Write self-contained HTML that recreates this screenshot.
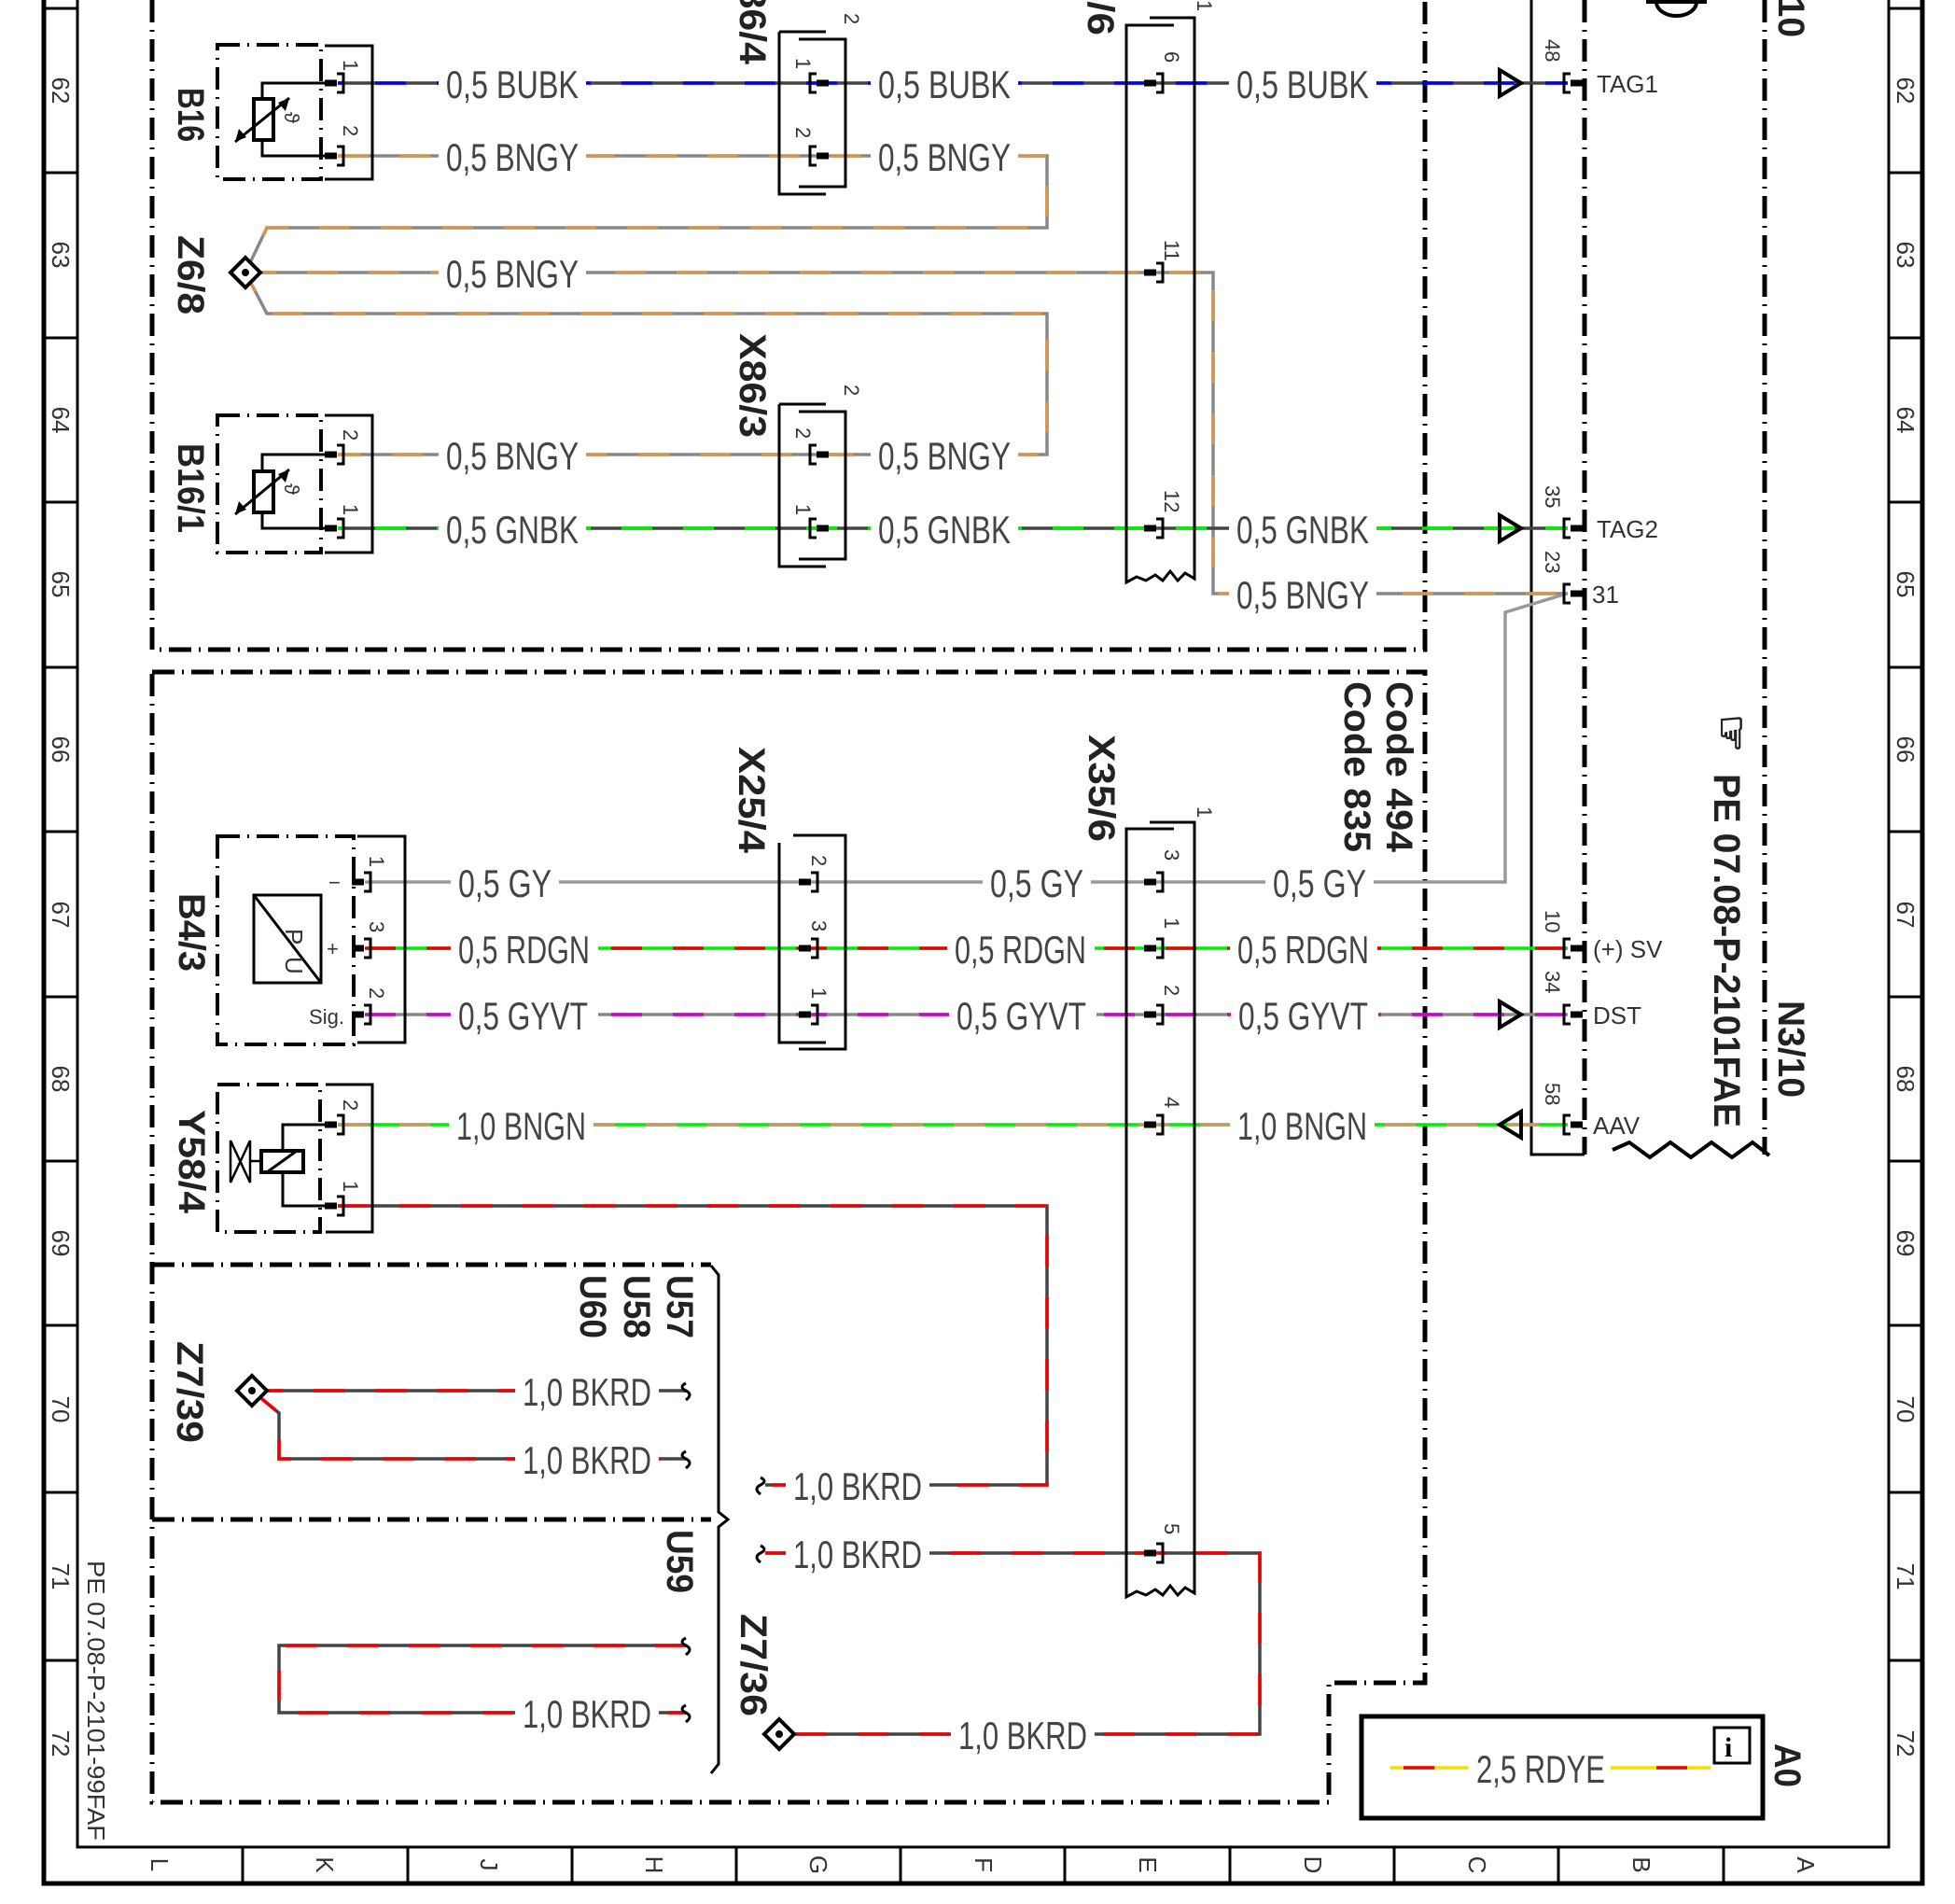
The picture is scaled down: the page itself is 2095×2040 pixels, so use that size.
<!DOCTYPE html>
<html><head><meta charset="utf-8"><style>
html,body{margin:0;padding:0;background:#fff}
svg{display:block}
text{font-family:"Liberation Sans",sans-serif}
.wl{font-size:42px;fill:#444}
.cl{font-size:40px;font-weight:bold;fill:#222}
.pn{font-size:22px;fill:#333}
.sm{font-size:26px;fill:#333}
.bd{fill:none;stroke:#000;stroke-width:5;stroke-dasharray:24 8 2 8}
.bx{fill:none;stroke:#000;stroke-width:3}
</style></head><body>
<svg width="2095" height="2040" viewBox="0 0 2095 2040" xmlns="http://www.w3.org/2000/svg">
<defs>
<g id="pR"><rect x="-14" y="-3.5" width="13" height="7" fill="#000"/><path d="M-1,-10 h7 v20 h-7" fill="none" stroke="#000" stroke-width="3"/></g>
<g id="pL"><path d="M1,-10 h-7 v20 h7" fill="none" stroke="#000" stroke-width="3"/><rect x="1" y="-3.5" width="13" height="7" fill="#000"/></g>
</defs>

<!-- frame -->
<g stroke="#000" fill="none">
<path d="M47,0 V2018 H2060 V0" stroke-width="5"/>
<path d="M83,0 V1979 H2024 V0" stroke-width="3"/>
<g stroke-width="3">
<path d="M47,9 H83 M47,185 H83 M47,362 H83 M47,538 H83 M47,715 H83 M47,891 H83 M47,1068 H83 M47,1244 H83 M47,1420 H83 M47,1599 H83 M47,1779 H83"/>
<path d="M2024,9 H2060 M2024,185 H2060 M2024,362 H2060 M2024,538 H2060 M2024,715 H2060 M2024,891 H2060 M2024,1068 H2060 M2024,1244 H2060 M2024,1420 H2060 M2024,1599 H2060 M2024,1779 H2060"/>
<path d="M260,1979 V2018 M437,1979 V2018 M613,1979 V2018 M789,1979 V2018 M965,1979 V2018 M1141,1979 V2018 M1318,1979 V2018 M1494,1979 V2018 M1670,1979 V2018 M1847,1979 V2018"/>
</g></g>
<g class="sm" text-anchor="middle">
<text transform="translate(56,97) rotate(90)">62</text><text transform="translate(56,273) rotate(90)">63</text>
<text transform="translate(56,450) rotate(90)">64</text><text transform="translate(56,626) rotate(90)">65</text>
<text transform="translate(56,803) rotate(90)">66</text><text transform="translate(56,980) rotate(90)">67</text>
<text transform="translate(56,1156) rotate(90)">68</text><text transform="translate(56,1332) rotate(90)">69</text>
<text transform="translate(56,1510) rotate(90)">70</text><text transform="translate(56,1689) rotate(90)">71</text>
<text transform="translate(56,1868) rotate(90)">72</text>
<text transform="translate(2033,97) rotate(90)">62</text><text transform="translate(2033,273) rotate(90)">63</text>
<text transform="translate(2033,450) rotate(90)">64</text><text transform="translate(2033,626) rotate(90)">65</text>
<text transform="translate(2033,803) rotate(90)">66</text><text transform="translate(2033,980) rotate(90)">67</text>
<text transform="translate(2033,1156) rotate(90)">68</text><text transform="translate(2033,1332) rotate(90)">69</text>
<text transform="translate(2033,1510) rotate(90)">70</text><text transform="translate(2033,1689) rotate(90)">71</text>
<text transform="translate(2033,1868) rotate(90)">72</text>
<text transform="translate(162,1998) rotate(90)">L</text><text transform="translate(339,1998) rotate(90)">K</text>
<text transform="translate(515,1998) rotate(90)">J</text><text transform="translate(692,1998) rotate(90)">H</text>
<text transform="translate(868,1998) rotate(90)">G</text><text transform="translate(1045,1998) rotate(90)">F</text>
<text transform="translate(1221,1998) rotate(90)">E</text><text transform="translate(1398,1998) rotate(90)">D</text>
<text transform="translate(1574,1998) rotate(90)">C</text><text transform="translate(1750,1998) rotate(90)">B</text>
<text transform="translate(1926,1998) rotate(90)">A</text>
<text transform="translate(94,1822) rotate(90)" textLength="300" lengthAdjust="spacingAndGlyphs">PE 07.08-P-2101-99FAF</text>
</g>

<!-- section boundaries -->
<path class="bd" d="M163,0 V696 H1527 V0"/>
<path class="bd" d="M163,720 H1527 V1803 H1424 V1931 H163 Z"/>
<path class="bd" d="M163,1355 H762"/>
<path class="bd" d="M163,1628 H762"/>
<path d="M762,1356 l8,10 V1620 l10,8 l-10,8 V1890 l-8,10" fill="none" stroke="#000" stroke-width="3"/>
<!-- N3/10 -->
<path d="M1641,0 V1237 H1698" fill="none" stroke="#000" stroke-width="3"/>
<path class="bd" d="M1698,0 V1237"/>
<path class="bd" d="M1891,0 V1237"/>
<path d="M1728,1232 l18,-8 l22,16 l22,-16 l22,16 l22,-16 l22,16 l22,-16 l18,14" fill="none" stroke="#000" stroke-width="4"/>
<path d="M1764,2 H1829 M1775,2 A20,14 0 0 0 1818,2" fill="none" stroke="#000" stroke-width="4"/>

<!-- wires -->
<g fill="none" stroke-width="3.5">
<path d="M362,89 H1680" stroke="#444"/><path d="M362,89 H1680" stroke="#0000ee" stroke-dasharray="33 33" stroke-dashoffset="-40"/>
<path d="M362,167 H1122 V244 H286 L263,292 L286,336 H1122 V487 H362" stroke="#888"/>
<path d="M362,167 H1122 V244 H286 L263,292 L286,336 H1122 V487 H362" stroke="#d4954f" stroke-dasharray="33 33"/>
<path d="M263,292 H1300 V636 H1680" stroke="#888"/>
<path d="M263,292 H1300 V636 H1680" stroke="#d4954f" stroke-dasharray="33 33"/>
<path d="M362,566 H1680" stroke="#444"/><path d="M362,566 H1680" stroke="#00ee00" stroke-dasharray="33 33" stroke-dashoffset="-40"/>
<path d="M391,945 H1613 V656 L1679,636" stroke="#999"/>
<path d="M391,1016 H1680" stroke="#00ee00"/><path d="M391,1016 H1680" stroke="#ee0000" stroke-dasharray="33 33"/>
<path d="M391,1087 H1680" stroke="#888"/><path d="M391,1087 H1680" stroke="#d000d0" stroke-dasharray="33 33"/>
<path d="M362,1205 H1680" stroke="#00ee00"/><path d="M362,1205 H1680" stroke="#c8966a" stroke-dasharray="33 33"/>
<g stroke="#444">
<path d="M362,1292 H1122 V1591 H820"/>
<path d="M820,1664 H1350 V1858 H835"/>
<path d="M270,1490 H735 M270,1490 L299,1514 V1563 H735"/>
<path d="M735,1763 H299 V1835 H735"/>
</g>
<g stroke="#ee0000" stroke-dasharray="33 33">
<path d="M362,1292 H1122 V1591 H820"/>
<path d="M820,1664 H1350 V1858 H835"/>
<path d="M270,1490 H735 M270,1490 L299,1514 V1563 H735"/>
<path d="M735,1763 H299 V1835 H735"/>
</g>
</g>
<g fill="none" stroke="#000" stroke-width="3">
<path d="M735,1482 q-8,4 0,8 q8,4 0,10 M735,1555 q-8,4 0,8 q8,4 0,10 M735,1755 q-8,4 0,8 q8,4 0,10 M735,1827 q-8,4 0,8 q8,4 0,10"/>
<path d="M815,1583 q8,4 0,8 q-8,4 0,10 M815,1656 q8,4 0,8 q-8,4 0,10"/>
</g>

<!-- components -->
<g fill="none" stroke="#000">
<rect x="233" y="48" width="111" height="144" class="bd" style="stroke-width:4"/>
<path d="M348,49 H399 V192 H348" stroke-width="3"/>
<rect x="272" y="106" width="21" height="44" stroke-width="4"/>
<path d="M281,106 V89 H355 M281,150 V167 H355" stroke-width="3"/>
<path d="M252,152 L310,105" stroke-width="3"/>
<rect x="233" y="445" width="111" height="147" class="bd" style="stroke-width:4"/>
<path d="M348,445 H399 V592 H348" stroke-width="3"/>
<rect x="272" y="505" width="21" height="44" stroke-width="4"/>
<path d="M281,505 V487 H355 M281,549 V566 H355" stroke-width="3"/>
<path d="M252,551 L310,503" stroke-width="3"/>
<rect x="233" y="896" width="146" height="223" class="bd" style="stroke-width:4"/>
<path d="M383,896 H434 V1117 H383" stroke-width="3"/>
<rect x="272" y="959" width="72" height="94" stroke-width="3"/>
<path d="M272,959 L344,1053" stroke-width="3"/>
<rect x="233" y="1162" width="110" height="158" class="bd" style="stroke-width:4"/>
<path d="M349,1162 H399 V1320 H349" stroke-width="3"/>
<rect x="280" y="1233" width="45" height="23" stroke-width="4"/>
<path d="M286,1256 L318,1233" stroke-width="3"/>
<path d="M303,1233 V1205 H355 M303,1256 V1292 H355" stroke-width="3"/>
<path d="M247,1222 L268,1267 V1222 L247,1267 Z M268,1244 H280" stroke-width="2.5"/>
<path d="M835,34 H885 M856,42 H906 V200 H856 M835,34 V208 H885" stroke-width="3"/>
<path d="M835,433 H885 M856,441 H906 V599 H856 M835,433 V607 H885" stroke-width="3"/>
<path d="M850,895 H906 V1124 H856 M835,903 V1117 H885" stroke-width="3"/>
<path d="M1232,19 H1280 V620 l-10,-6 l-8,8 l-8,-10 l-8,10 l-8,-6 l-10,6 l-10,-4 l-11,6 V27 H1258" stroke-width="3"/>
<path d="M1232,881 H1280 V1707 l-10,-6 l-8,8 l-8,-10 l-8,10 l-8,-6 l-10,6 l-10,-4 l-11,6 V888 H1258" stroke-width="3"/>
<path d="M1607,75 L1630,89 L1607,103 Z M1607,552 L1630,566 L1607,580 Z M1607,1073 L1630,1087 L1607,1101 Z M1630,1191 L1607,1205 L1630,1219 Z" stroke-width="4"/>
<path d="M263,276 l16,16 l-16,16 l-16,-16 Z M270,1474 l16,16 l-16,16 l-16,-16 Z M835,1842 l16,16 l-16,16 l-16,-16 Z" stroke-width="4" fill="#fff"/>
</g>
<g fill="#000">
<path d="M252,152 l4,-14 l8,9 Z M310,105 l-4,14 l-8,-9 Z M252,551 l4,-14 l8,9 Z M310,503 l-4,14 l-8,-9 Z"/>
</g>
<circle cx="263" cy="292" r="4"/><circle cx="270" cy="1490" r="4"/><circle cx="835" cy="1858" r="4"/>
<text x="304" y="135" class="pn" transform="rotate(90 312 128)">ϑ</text>
<text x="304" y="533" class="pn" transform="rotate(90 312 526)">ϑ</text>
<text class="sm" transform="translate(306,995) rotate(90)">P</text>
<text class="sm" transform="translate(306,1025) rotate(90)">U</text>
<text class="pn" x="352" y="953">−</text><text class="pn" x="350" y="1024">+</text>
<text class="pn" x="331" y="1097" textLength="38" lengthAdjust="spacingAndGlyphs">Sig.</text>

<!-- pins -->
<use href="#pR" x="362" y="89"/><use href="#pR" x="362" y="167"/><use href="#pR" x="362" y="487"/><use href="#pR" x="362" y="566"/>
<use href="#pR" x="391" y="945"/><use href="#pR" x="391" y="1016"/><use href="#pR" x="391" y="1087"/>
<use href="#pR" x="362" y="1205"/><use href="#pR" x="362" y="1292"/>
<use href="#pL" x="874" y="89"/><use href="#pL" x="874" y="167"/><use href="#pL" x="874" y="487"/><use href="#pL" x="874" y="566"/>
<use href="#pR" x="870" y="945"/><use href="#pR" x="870" y="1016"/><use href="#pR" x="870" y="1087"/>
<use href="#pR" x="1240" y="89"/><use href="#pR" x="1240" y="292"/><use href="#pR" x="1240" y="566"/>
<use href="#pR" x="1240" y="945"/><use href="#pR" x="1240" y="1016"/><use href="#pR" x="1240" y="1087"/><use href="#pR" x="1240" y="1205"/><use href="#pR" x="1240" y="1664"/>
<use href="#pL" x="1682" y="89"/><use href="#pL" x="1682" y="566"/><use href="#pL" x="1682" y="636"/>
<use href="#pL" x="1682" y="1016"/><use href="#pL" x="1682" y="1087"/><use href="#pL" x="1682" y="1205"/>

<g class="pn">
<text transform="translate(368,64) rotate(90)">1</text><text transform="translate(368,134) rotate(90)">2</text>
<text transform="translate(368,460) rotate(90)">2</text><text transform="translate(368,540) rotate(90)">1</text>
<text transform="translate(396,917) rotate(90)">1</text><text transform="translate(396,987) rotate(90)">3</text><text transform="translate(396,1058) rotate(90)">2</text>
<text transform="translate(368,1178) rotate(90)">2</text><text transform="translate(368,1265) rotate(90)">1</text>
<text transform="translate(853,62) rotate(90)">1</text><text transform="translate(853,136) rotate(90)">2</text>
<text transform="translate(853,458) rotate(90)">2</text><text transform="translate(853,540) rotate(90)">1</text>
<text transform="translate(905,14) rotate(90)">2</text><text transform="translate(905,412) rotate(90)">2</text>
<text transform="translate(870,916) rotate(90)">2</text><text transform="translate(870,986) rotate(90)">3</text><text transform="translate(870,1058) rotate(90)">1</text>
<text transform="translate(1248,55) rotate(90)">6</text><text transform="translate(1248,257) rotate(90)">11</text><text transform="translate(1248,525) rotate(90)">12</text>
<text transform="translate(1248,910) rotate(90)">3</text><text transform="translate(1248,983) rotate(90)">1</text><text transform="translate(1248,1055) rotate(90)">2</text>
<text transform="translate(1248,1175) rotate(90)">4</text><text transform="translate(1248,1632) rotate(90)">5</text>
<text transform="translate(1283,0) rotate(90)">1</text><text transform="translate(1283,864) rotate(90)">1</text>
<text transform="translate(1656,42) rotate(90)">48</text><text transform="translate(1656,520) rotate(90)">35</text><text transform="translate(1656,590) rotate(90)">23</text>
<text transform="translate(1656,975) rotate(90)">10</text><text transform="translate(1656,1040) rotate(90)">34</text><text transform="translate(1656,1160) rotate(90)">58</text>
</g>
<g class="sm">
<text x="1711" y="99">TAG1</text><text x="1711" y="576">TAG2</text><text x="1706" y="646">31</text>
<text x="1707" y="1026">(+) SV</text><text x="1707" y="1097">DST</text><text x="1707" y="1215">AAV</text>
</g>

<g class="wl">
<g fill="#fff">
<rect x="470" y="70" width="158" height="40"/><rect x="933" y="70" width="158" height="40"/><rect x="1317" y="70" width="158" height="40"/>
<rect x="470" y="148" width="158" height="40"/><rect x="933" y="148" width="158" height="40"/>
<rect x="470" y="273" width="158" height="40"/>
<rect x="470" y="468" width="158" height="40"/><rect x="933" y="468" width="158" height="40"/>
<rect x="470" y="547" width="158" height="40"/><rect x="933" y="547" width="158" height="40"/><rect x="1317" y="547" width="158" height="40"/>
<rect x="1317" y="617" width="158" height="40"/>
<rect x="483" y="926" width="116" height="40"/><rect x="1053" y="926" width="116" height="40"/><rect x="1356" y="926" width="116" height="40"/>
<rect x="483" y="997" width="158" height="40"/><rect x="1015" y="997" width="158" height="40"/><rect x="1318" y="997" width="158" height="40"/>
<rect x="483" y="1068" width="158" height="40"/><rect x="1017" y="1068" width="158" height="40"/><rect x="1319" y="1068" width="158" height="40"/>
<rect x="481" y="1186" width="155" height="40"/><rect x="1318" y="1186" width="155" height="40"/>
<rect x="552" y="1471" width="154" height="40"/><rect x="552" y="1544" width="154" height="40"/><rect x="552" y="1816" width="154" height="40"/>
<rect x="842" y="1572" width="154" height="40"/><rect x="842" y="1645" width="154" height="40"/><rect x="1019" y="1839" width="154" height="40"/>
</g>
<text x="478" y="105" textLength="142" lengthAdjust="spacingAndGlyphs">0,5 BUBK</text>
<text x="941" y="105" textLength="142" lengthAdjust="spacingAndGlyphs">0,5 BUBK</text>
<text x="1325" y="105" textLength="142" lengthAdjust="spacingAndGlyphs">0,5 BUBK</text>
<text x="478" y="183" textLength="142" lengthAdjust="spacingAndGlyphs">0,5 BNGY</text>
<text x="941" y="183" textLength="142" lengthAdjust="spacingAndGlyphs">0,5 BNGY</text>
<text x="478" y="308" textLength="142" lengthAdjust="spacingAndGlyphs">0,5 BNGY</text>
<text x="478" y="503" textLength="142" lengthAdjust="spacingAndGlyphs">0,5 BNGY</text>
<text x="941" y="503" textLength="142" lengthAdjust="spacingAndGlyphs">0,5 BNGY</text>
<text x="478" y="582" textLength="142" lengthAdjust="spacingAndGlyphs">0,5 GNBK</text>
<text x="941" y="582" textLength="142" lengthAdjust="spacingAndGlyphs">0,5 GNBK</text>
<text x="1325" y="582" textLength="142" lengthAdjust="spacingAndGlyphs">0,5 GNBK</text>
<text x="1325" y="652" textLength="142" lengthAdjust="spacingAndGlyphs">0,5 BNGY</text>
<text x="491" y="961" textLength="100" lengthAdjust="spacingAndGlyphs">0,5 GY</text>
<text x="1061" y="961" textLength="100" lengthAdjust="spacingAndGlyphs">0,5 GY</text>
<text x="1364" y="961" textLength="100" lengthAdjust="spacingAndGlyphs">0,5 GY</text>
<text x="491" y="1032" textLength="141" lengthAdjust="spacingAndGlyphs">0,5 RDGN</text>
<text x="1023" y="1032" textLength="141" lengthAdjust="spacingAndGlyphs">0,5 RDGN</text>
<text x="1326" y="1032" textLength="141" lengthAdjust="spacingAndGlyphs">0,5 RDGN</text>
<text x="491" y="1103" textLength="139" lengthAdjust="spacingAndGlyphs">0,5 GYVT</text>
<text x="1025" y="1103" textLength="139" lengthAdjust="spacingAndGlyphs">0,5 GYVT</text>
<text x="1327" y="1103" textLength="139" lengthAdjust="spacingAndGlyphs">0,5 GYVT</text>
<text x="489" y="1221" textLength="139" lengthAdjust="spacingAndGlyphs">1,0 BNGN</text>
<text x="1326" y="1221" textLength="139" lengthAdjust="spacingAndGlyphs">1,0 BNGN</text>
<text x="560" y="1506" textLength="138" lengthAdjust="spacingAndGlyphs">1,0 BKRD</text>
<text x="560" y="1579" textLength="138" lengthAdjust="spacingAndGlyphs">1,0 BKRD</text>
<text x="560" y="1851" textLength="138" lengthAdjust="spacingAndGlyphs">1,0 BKRD</text>
<text x="850" y="1607" textLength="138" lengthAdjust="spacingAndGlyphs">1,0 BKRD</text>
<text x="850" y="1680" textLength="138" lengthAdjust="spacingAndGlyphs">1,0 BKRD</text>
<text x="1027" y="1874" textLength="138" lengthAdjust="spacingAndGlyphs">1,0 BKRD</text>
</g>

<g class="cl">
<text transform="translate(191,94) rotate(90)" textLength="58" lengthAdjust="spacingAndGlyphs">B16</text>
<text transform="translate(191,252) rotate(90)" textLength="85" lengthAdjust="spacingAndGlyphs">Z6/8</text>
<text transform="translate(191,475) rotate(90)" textLength="96" lengthAdjust="spacingAndGlyphs">B16/1</text>
<text transform="translate(192,957) rotate(90)" textLength="84" lengthAdjust="spacingAndGlyphs">B4/3</text>
<text transform="translate(192,1189) rotate(90)" textLength="111" lengthAdjust="spacingAndGlyphs">Y58/4</text>
<text transform="translate(190,1437) rotate(90)" textLength="109" lengthAdjust="spacingAndGlyphs">Z7/39</text>
<text transform="translate(715,1366) rotate(90)" textLength="68" lengthAdjust="spacingAndGlyphs">U57</text>
<text transform="translate(669,1366) rotate(90)" textLength="68" lengthAdjust="spacingAndGlyphs">U58</text>
<text transform="translate(622,1366) rotate(90)" textLength="68" lengthAdjust="spacingAndGlyphs">U60</text>
<text transform="translate(715,1639) rotate(90)" textLength="68" lengthAdjust="spacingAndGlyphs">U59</text>
<text transform="translate(794,1729) rotate(90)" textLength="110" lengthAdjust="spacingAndGlyphs">Z7/36</text>
<text transform="translate(793,-43) rotate(90)" textLength="112" lengthAdjust="spacingAndGlyphs">X86/4</text>
<text transform="translate(793,357) rotate(90)" textLength="112" lengthAdjust="spacingAndGlyphs">X86/3</text>
<text transform="translate(792,800) rotate(90)" textLength="114" lengthAdjust="spacingAndGlyphs">X25/4</text>
<text transform="translate(1167,787) rotate(90)" textLength="115" lengthAdjust="spacingAndGlyphs">X35/6</text>
<text transform="translate(1166,-77) rotate(90)" textLength="115" lengthAdjust="spacingAndGlyphs">X35/6</text>
<text transform="translate(1486,730) rotate(90)" textLength="183" lengthAdjust="spacingAndGlyphs">Code 494</text>
<text transform="translate(1441,730) rotate(90)" textLength="183" lengthAdjust="spacingAndGlyphs">Code 835</text>
<text transform="translate(1837,829) rotate(90)" textLength="379" lengthAdjust="spacingAndGlyphs">PE 07.08-P-2101FAE</text>
<text transform="translate(1906,1072) rotate(90)" textLength="104" lengthAdjust="spacingAndGlyphs">N3/10</text>
<text transform="translate(1906,-64) rotate(90)" textLength="104" lengthAdjust="spacingAndGlyphs">N3/10</text>
<text transform="translate(1902,1868) rotate(90)" textLength="47" lengthAdjust="spacingAndGlyphs">A0</text>
<text transform="translate(1840,765) rotate(90)" style="font-size:46px">☞</text>
</g>

<rect x="1459" y="1839" width="430" height="109" fill="none" stroke="#000" stroke-width="5"/>
<rect x="1837" y="1851" width="38" height="38" fill="none" stroke="#000" stroke-width="3"/>
<text x="1848" y="1882" style="font-size:30px;font-weight:bold;font-family:'Liberation Serif',serif">i</text>
<path d="M1490,1894 H1573 M1726,1894 H1833" stroke="#f0e000" stroke-width="3.5"/>
<path d="M1504,1894 H1537 M1775,1894 H1808" stroke="#ee0000" stroke-width="3.5"/>
<text class="wl" x="1582" y="1910" textLength="138" lengthAdjust="spacingAndGlyphs">2,5 RDYE</text>
</svg>
</body></html>
